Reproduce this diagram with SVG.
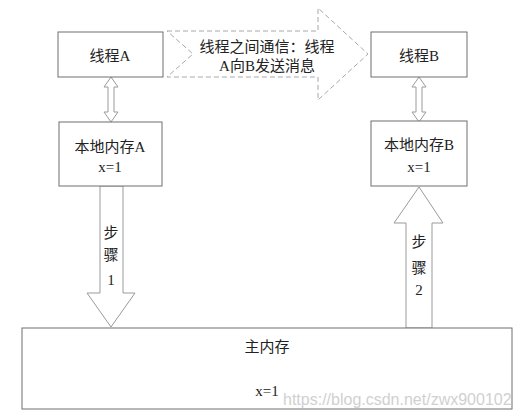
<svg xmlns="http://www.w3.org/2000/svg" width="519" height="419" viewBox="0 0 519 419">
<style>
.box{fill:#fff;stroke:#6f6f6f;stroke-width:1}
.arr{fill:#fff;stroke:#9a9a9a;stroke-width:1}
.dash{fill:#fff;stroke:#a8a8a8;stroke-width:1;stroke-dasharray:5,3}
text{font-family:"Liberation Serif","Noto Sans CJK SC",serif;font-size:15px;fill:#222;text-anchor:middle}
.wm{font-family:"Liberation Sans",Arial,sans-serif;font-size:16px;fill:#d0d0d0;text-anchor:start}
</style>
<rect width="519" height="419" fill="#fff"/>
<g id="connectors">
<path class="dash" d="M167,31 L318,31 L318,8 L368,54 L318,100 L318,77 L167,77 L193,54 Z"/>
<path class="arr" d="M111,77 L118,87 L114,87 L114,112 L118,112 L111,122 L104,112 L108,112 L108,87 L104,87 Z"/>
<path class="arr" d="M419,77 L426,87 L422,87 L422,112 L426,112 L419,122 L412,112 L416,112 L416,87 L412,87 Z"/>
<path class="arr" d="M100,186 L123,186 L123,293 L135,293 L111,327 L87,293 L100,293 Z"/>
<path class="arr" d="M406,328 L432,328 L432,223 L443,223 L419,187 L394,223 L406,223 Z"/>
<text x="267" y="52">线程之间通信：线程</text>
<text x="267" y="71">A向B发送消息</text>
<text x="111" y="238">步</text>
<text x="111" y="260">骤</text>
<text x="111" y="285">1</text>
<text x="419" y="247">步</text>
<text x="419" y="273">骤</text>
<text x="419" y="295">2</text>
</g>
<g id="threadA">
<rect class="box" x="58" y="32" width="105" height="45"/>
<text x="110" y="61">线程A</text>
</g>
<g id="threadB">
<rect class="box" x="371" y="32" width="96" height="45"/>
<text x="419" y="61">线程B</text>
</g>
<g id="localA">
<rect class="box" x="59" y="122" width="103" height="64"/>
<text x="110" y="152">本地内存A</text>
<text x="110" y="172">x=1</text>
</g>
<g id="localB">
<rect class="box" x="371" y="121" width="96" height="65"/>
<text x="419" y="150">本地内存B</text>
<text x="419" y="172">x=1</text>
</g>
<g id="main">
<rect class="box" x="22" y="328" width="490" height="81"/>
<text x="267" y="352">主内存</text>
<text x="267" y="396">x=1</text>
</g>
<text class="wm" x="283" y="405">https://blog.csdn.net/zwx900102</text>
</svg>
